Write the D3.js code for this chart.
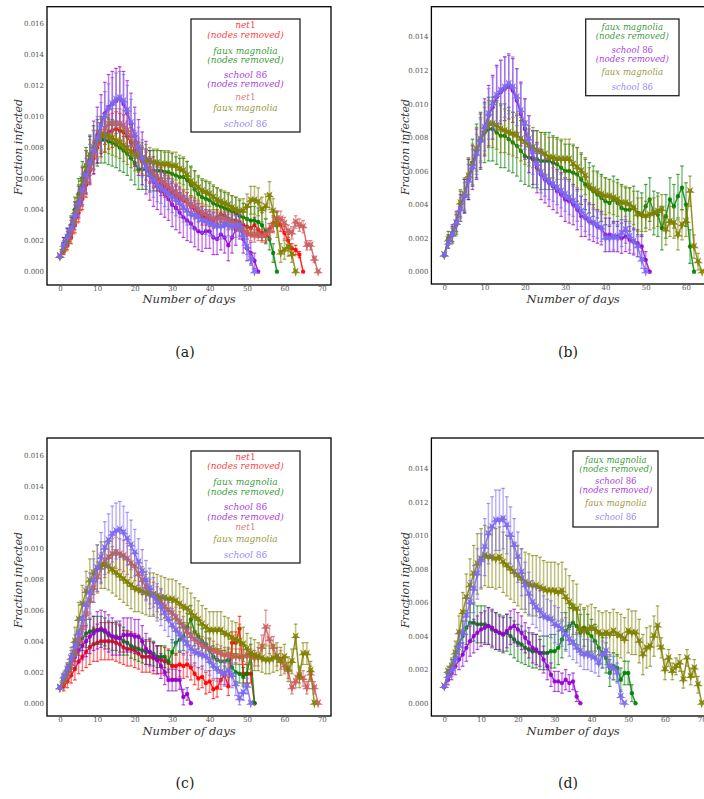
<!DOCTYPE html>
<html>
<head>
<meta charset="utf-8">
<script src="https://cdn.jsdelivr.net/npm/d3@7"></script>
<style>
  body { margin: 0; background: #fff; }
  svg { display: block; }
  text { font-family: "DejaVu Serif", "Liberation Serif", serif; }
</style>
</head>
<body>
<svg id="chart" width="704" height="799"></svg>
<script>
// all values are in units of 1e-4 (fraction infected), index = day
const UNIT = 1e-4;
const xTicks = [0, 10, 20, 30, 40, 50, 60, 70];
const yTicks16 = [0, 0.002, 0.004, 0.006, 0.008, 0.010, 0.012, 0.014, 0.016];
const yTicks14 = [0, 0.002, 0.004, 0.006, 0.008, 0.010, 0.012, 0.014];

// ---- panel (a)
const aNet1Rm = [10,13,17,22,30,38,47,56,65,73, 80,85,88,90,91,92,91,90,87,83, 78,74,71,68,65,62,60,57,55,53, 51,49,47,46,45,42,40,38,36,35, 34,33,35,37,36,34,33,33,32,30, 29,28,30,27,25,23,27,31,34,30, 25,20,15,14,11,0];
const aNet1RmErr = [1,2,3,4,5,6,7,8,9,10, 10,11,11,11,11,11,11,11,10,10, 10,9,9,9,8,8,8,8,7,7, 7,7,7,6,6,6,6,6,6,5, 5,5,5,5,5,5,5,5,5,5, 5,5,5,5,5,4,4,5,5,4, 4,4,3,3,2,0];
const aFauxRm = [10,18,23,30,40,50,60,68,75,80, 83,85,85,84,83,82,80,78,76,73, 70,66,66,66,65,65,65,65,64,64, 63,62,61,61,59,56,53,50,48,47, 46,44,43,42,41,40,39,38,36,35, 34,33,33,32,30,26,21,12,0];
const aFauxRmErr = [1,4,5,6,8,10,11,12,13,14, 15,15,15,15,15,15,15,14,14,14, 14,13,13,13,13,13,13,13,13,13, 13,12,12,12,12,12,12,11,11,11, 11,11,11,10,10,10,10,10,10,9, 9,9,9,9,8,8,7,6,0];
const aSchoolRm = [10,18,23,29,37,45,55,64,72,80, 88,95,102,106,108,110,111,108,102,95, 87,80,73,67,62,58,55,52,50,47, 43,41,38,35,33,31,28,26,25,26, 26,22,21,24,22,17,22,27,30,21, 15,12,7,0];
const aSchoolRmErr = [1,4,5,6,8,10,12,14,15,17, 18,19,20,21,21,21,21,21,21,20, 19,18,17,17,16,16,15,15,15,14, 14,14,13,13,13,12,12,12,12,11, 11,11,10,10,10,10,10,10,9,9, 8,7,5,0];
const aNet1 = [10,14,19,25,32,40,49,58,67,75, 82,88,92,95,95,95,95,94,91,87, 82,77,73,70,66,63,61,59,57,55, 53,51,49,47,45,43,42,40,38,37, 35,34,34,34,34,33,32,31,28,27, 25,24,23,24,23,24,26,30,34,34, 31,26,25,32,30,29,17,17,8,0];
const aNet1Err = [1,2,3,4,5,6,7,8,8,9, 9,10,10,10,10,10,10,10,10,9, 9,9,8,8,8,8,7,7,7,7, 7,6,6,6,6,6,6,5,5,5, 5,5,5,5,5,5,5,5,5,4, 4,4,4,4,4,4,5,5,5,5, 4,4,4,4,4,4,3,3,2,0];
const aFaux = [10,15,20,28,38,48,59,68,75,80, 85,88,88,87,86,84,83,81,79,77, 75,74,73,72,71,70,70,69,69,69, 68,68,66,65,62,58,56,54,52,51, 50,48,46,45,44,43,41,40,39,39, 42,46,46,45,40,42,49,39,30,12, 14,16,11,0];
const aFauxErr = [1,3,4,5,7,8,9,10,10,11, 11,11,11,11,11,10,10,10,10,10, 10,10,10,10,9,9,9,9,9,9, 9,9,9,9,9,9,9,8,8,8, 8,8,8,8,8,8,8,8,8,8, 8,9,9,9,8,8,9,8,8,6, 6,6,5,0];
const aSchool = [10,17,22,28,36,44,53,62,70,78, 86,94,100,105,108,111,112,110,104,96, 88,80,73,67,62,59,56,54,52,50, 48,46,44,41,39,37,36,35,33,32, 31,30,29,29,30,30,29,29,30,23, 16,8,0];
const aSchoolErr = [1,3,4,5,7,8,10,11,12,13, 14,15,16,16,17,17,17,17,16,15, 14,13,12,12,11,11,11,10,10,10, 10,10,9,9,9,9,9,8,8,8, 8,8,8,8,8,7,7,7,7,6, 5,4,0];

// ---- panel (b)
const bFauxRm = [10,20,22,28,40,45,55,65,72,78, 83,85,85,83,81,81,79,77,75,72, 69,68,67,67,66,66,66,65,64,62, 60,60,59,58,55,52,50,48,46,44, 42,41,43,41,38,37,37,38,35,34, 39,43,35,34,26,33,43,39,45,50, 40,15,0];
const bFauxRmErr = [1,4,5,6,8,10,12,14,16,17, 18,19,19,19,19,19,19,18,18,18, 17,17,17,17,17,17,17,16,16,16, 16,16,16,16,15,15,15,15,14,14, 14,14,14,14,14,13,13,13,13,13, 13,13,13,13,13,13,13,13,13,13, 13,10,0];
const bSchoolRm = [10,18,23,30,38,45,55,62,70,78, 86,93,98,104,107,109,110,108,102,94, 85,76,68,62,58,55,53,51,48,46, 43,42,40,37,33,32,30,29,27,26, 22,22,21,21,20,21,19,18,17,15, 7,0];
const bSchoolRmErr = [1,4,5,6,8,10,12,13,15,16, 17,18,19,19,19,19,19,19,19,19, 18,17,16,15,15,14,14,14,13,13, 13,13,12,12,12,11,11,11,10,10, 10,10,9,9,9,9,8,8,8,7, 5,0];
const bFaux = [10,19,22,29,41,46,57,64,73,79, 84,88,88,87,85,84,83,82,81,79, 77,75,74,72,71,70,68,68,67,67, 67,67,64,62,60,57,51,49,48,46, 45,45,44,43,41,41,40,38,34,34, 33,34,35,36,37,25,30,29,22,28, 30,48,15,6,0];
const bFauxErr = [1,3,4,6,8,10,11,12,13,13, 14,14,14,14,14,13,13,13,13,13, 13,12,12,12,12,12,12,12,12,12, 12,12,12,12,11,11,11,11,11,11, 11,10,10,10,10,10,10,10,10,10, 9,9,9,9,9,9,9,9,9,9, 9,9,7,5,0];
const bSchool = [10,17,22,29,37,45,54,62,70,78, 86,94,100,105,108,110,112,110,104,96, 88,79,71,64,59,56,54,52,50,48, 46,44,42,39,36,33,31,29,28,26, 20,20,21,20,23,25,21,18,15,7, 0];
const bSchoolErr = [1,3,4,5,7,8,10,11,12,13, 14,15,16,17,18,18,18,18,17,16, 15,14,13,12,12,11,11,10,10,10, 10,10,9,9,9,9,9,8,8,8, 8,8,8,8,8,8,8,7,6,5, 0];

// ---- panel (c)
const cNet1Rm = [10,11,14,18,22,27,30,33,36,38, 39,40,40,40,40,39,38,36,35,35, 34,32,30,30,30,29,28,28,27,26, 24,24,25,24,25,23,19,16,17,13, 14,9,10,15,18,11,39,39,48,19, 19,19,0];
const cNet1RmErr = [1,3,4,5,7,8,9,10,11,11, 12,12,12,12,12,12,12,11,11,11, 11,10,10,10,10,10,9,9,9,9, 8,8,8,8,8,8,7,7,7,7, 7,6,6,6,6,6,7,7,8,6, 6,6,0];
const cFauxRm = [10,16,21,27,33,38,42,45,46,47, 47,47,46,44,43,43,42,40,39,37, 36,35,34,33,33,32,30,30,30,27, 33,39,41,43,49,54,46,43,40,38, 34,30,28,27,27,28,23,20,19,17, 19,32,0];
const cFauxRmErr = [1,3,4,5,6,7,8,9,9,9, 9,9,9,9,9,9,9,9,8,8, 8,8,8,8,8,8,7,7,7,7, 8,8,8,9,9,9,9,8,8,8, 8,7,7,7,7,7,6,6,6,6, 6,6,0];
const cSchoolRm = [10,15,20,25,30,34,37,40,43,45, 47,48,47,45,43,42,42,44,44,44, 43,43,40,35,33,30,28,24,20,15, 15,15,15,4,6,0];
const cSchoolRmErr = [1,3,4,5,7,8,9,10,11,11, 12,12,12,12,12,11,11,11,11,11, 11,11,10,10,9,9,9,8,8,7, 7,7,6,5,4,0];
const cNet1 = [10,14,19,25,32,40,48,57,66,74, 81,87,91,94,96,97,96,95,93,90, 88,83,79,75,72,70,67,65,62,60, 58,55,52,49,46,43,41,39,37,36, 35,34,33,32,31,31,30,30,30,30, 31,30,29,30,36,49,41,36,30,28, 24,21,10,14,18,16,10,19,10,0];
const cNet1Err = [1,3,4,5,6,7,8,8,9,9, 10,10,10,10,10,10,10,10,10,9, 9,9,9,8,8,8,8,8,7,7, 7,7,7,7,6,6,6,6,6,6, 6,6,5,5,5,5,5,5,5,5, 5,5,5,6,8,11,9,7,6,6, 5,5,4,4,5,5,4,5,4,0];
const cFaux = [10,15,21,29,40,54,64,72,79,84, 87,89,89,88,86,84,82,80,78,76, 74,73,72,71,70,70,69,68,68,67, 67,66,64,62,61,58,56,54,51,49, 47,47,47,47,45,44,42,41,40,38, 35,32,31,30,29,28,28,29,30,27, 30,22,27,43,17,32,32,21,0];
const cFauxErr = [1,3,5,7,9,11,12,13,14,14, 15,15,15,15,15,15,15,15,15,15, 15,14,14,14,14,14,14,14,13,13, 13,13,13,13,13,13,12,12,12,12, 12,12,12,12,11,11,11,11,11,11, 10,10,10,9,9,9,9,9,9,9, 8,8,8,8,7,7,7,6,0];
const cSchool = [10,17,22,29,37,45,54,63,71,79, 87,94,100,105,109,111,112,110,106,102, 97,91,85,79,74,69,65,62,58,54, 50,47,44,41,38,35,33,32,31,30, 27,24,22,20,19,21,18,12,3,7, 11,0];
const cSchoolErr = [1,3,4,5,7,9,11,12,13,14, 15,16,17,17,18,18,18,17,17,16, 15,15,14,13,13,12,12,12,11,11, 11,10,10,10,10,10,9,9,9,9, 9,8,8,8,8,8,8,7,4,5, 5,0];

// ---- panel (d)
const dFauxRm = [10,17,22,28,35,40,45,48,48,47, 47,47,46,44,43,42,41,42,40,38, 36,35,33,32,31,31,30,30,30,31, 31,33,38,43,46,48,46,42,45,42, 40,37,33,30,27,18,22,21,14,18, 18,6,0];
const dFauxRmErr = [1,3,4,6,8,9,10,11,11,11, 11,11,11,11,11,11,11,11,11,11, 11,11,10,10,10,10,10,10,10,10, 10,10,11,11,11,11,11,11,11,11, 10,10,10,9,9,8,8,8,7,7, 7,5,0];
const dSchoolRm = [10,14,18,22,26,29,33,37,40,42, 44,45,46,45,43,42,41,43,45,46, 44,42,39,36,33,32,30,26,22,17, 13,13,12,14,12,13,4,0];
const dSchoolRmErr = [1,3,4,5,6,7,8,9,10,10, 10,10,11,11,11,10,10,10,10,10, 10,10,9,9,9,9,8,8,8,7, 6,6,6,6,5,5,3,0];
const dFaux = [10,19,22,30,42,54,63,70,77,83, 86,88,87,87,86,87,84,82,80,78, 76,74,72,71,70,70,69,68,67,67, 67,66,67,63,60,57,56,44,43,44, 45,44,42,41,42,41,43,41,40,38, 43,42,42,37,29,33,34,40,46,33, 20,27,19,22,24,14,27,16,21,11, 0];
const dFauxErr = [1,3,5,7,10,12,14,16,17,18, 18,18,18,18,18,18,18,18,18,18, 18,18,18,18,18,18,18,17,17,17, 17,17,17,17,16,16,15,15,14,14, 14,13,13,13,13,13,13,13,13,13, 13,13,13,13,12,12,12,12,12,6, 6,5,5,5,5,5,5,5,5,5, 0];
const dSchool = [10,16,20,26,34,42,52,60,68,77, 85,93,101,105,109,109,110,106,100,94, 87,78,70,65,60,57,55,52,51,50, 47,46,44,41,38,36,33,31,29,29, 28,27,24,29,31,22,21,18,4,0];
const dSchoolErr = [1,3,4,5,7,9,11,13,14,15, 16,17,18,18,18,18,18,17,17,16, 15,14,14,13,13,12,12,12,11,11, 11,11,10,10,10,10,9,9,9,9, 9,9,8,8,8,7,7,6,4,0];

// series look
const STYLE = {
  net1Rm:   { color: '#ff0000', marker: 'circle', label: ['net1', '(nodes removed)'] },
  fauxRm:   { color: '#008000', marker: 'circle', label: ['faux magnolia', '(nodes removed)'] },
  schoolRm: { color: '#9400d3', marker: 'circle', label: ['school 86', '(nodes removed)'] },
  net1:     { color: '#cd5c5c', marker: 'star',   label: ['net1'] },
  faux:     { color: '#808000', marker: 'star',   label: ['faux magnolia'] },
  school:   { color: '#7b68ee', marker: 'star',   label: ['school 86'] }
};

const panels = [
  { tag: '(a)', xRange: [47, 331], yRange: [285, 6.7], xDomain: [-3.45, 72.45], yDomain: [-0.00086, 0.01707],
    xTicks: xTicks, yTicks: yTicks16, cap: [185, 357], xLab: [189, 303], yLab: [18, 147],
    legend: { x: 191, y: 19, w: 109, h: 113, cx: 245.5, fs: 9, ys: [25, 35, 50.7, 60, 75, 84.3, 96.7, 107.7, 124] },
    series: [['net1Rm', aNet1Rm, aNet1RmErr], ['fauxRm', aFauxRm, aFauxRmErr], ['schoolRm', aSchoolRm, aSchoolRmErr],
             ['net1', aNet1, aNet1Err], ['faux', aFaux, aFauxErr], ['school', aSchool, aSchoolErr]] },
  { tag: '(b)', xRange: [431.4, 715], yRange: [284, 6.7], xDomain: [-3.2, 67.2], yDomain: [-0.00073, 0.01579],
    xTicks: xTicks, yTicks: yTicks14, cap: [568, 357], xLab: [573, 303], yLab: [405, 147],
    legend: { x: 585.7, y: 19, w: 93.3, h: 76.7, cx: 632.3, fs: 8.6, ys: [26.4, 35.9, 49.8, 58.6, 71.7, 86.7] },
    series: [['fauxRm', bFauxRm, bFauxRmErr], ['schoolRm', bSchoolRm, bSchoolRmErr],
             ['faux', bFaux, bFauxErr], ['school', bSchool, bSchoolErr]] },
  { tag: '(c)', xRange: [47, 331], yRange: [716, 438], xDomain: [-3.45, 72.45], yDomain: [-0.00082, 0.01709],
    xTicks: xTicks, yTicks: yTicks16, cap: [185, 788], xLab: [189, 734.5], yLab: [18, 580],
    legend: { x: 191, y: 451, w: 109, h: 112, cx: 245.5, fs: 9, ys: [456.7, 466, 481.7, 491.7, 506.7, 516.7, 527.3, 539.3, 555] },
    series: [['net1Rm', cNet1Rm, cNet1RmErr], ['fauxRm', cFauxRm, cFauxRmErr], ['schoolRm', cSchoolRm, cSchoolRmErr],
             ['net1', cNet1, cNet1Err], ['faux', cFaux, cFauxErr], ['school', cSchool, cSchoolErr]] },
  { tag: '(d)', xRange: [431.4, 714.6], yRange: [716, 438], xDomain: [-3.5, 73.5], yDomain: [-0.00076, 0.0158],
    xTicks: xTicks, yTicks: yTicks14, cap: [568, 788], xLab: [573, 734.5], yLab: [405, 580],
    legend: { x: 573, y: 451, w: 85, h: 76, cx: 615.8, fs: 8.6, ys: [459.7, 468.6, 480.5, 490.2, 502.7, 517.3] },
    series: [['fauxRm', dFauxRm, dFauxRmErr], ['schoolRm', dSchoolRm, dSchoolRmErr],
             ['faux', dFaux, dFauxErr], ['school', dSchool, dSchoolErr]] }
];

const svg = d3.select('#chart');
const star = d3.symbol().type(d3.symbolStar).size(30);

// italic label with digits kept upright, like latex math
function mathText(sel, str) {
  str.split(/(\d+)/).forEach(part => {
    if (!part) return;
    sel.append('tspan')
      .attr('font-style', /^\d+$/.test(part) ? 'normal' : 'italic')
      .text(part);
  });
}

panels.forEach(p => {
  const g = svg.append('g');
  const x = d3.scaleLinear().domain(p.xDomain).range(p.xRange);
  const y = d3.scaleLinear().domain(p.yDomain).range(p.yRange);

  // axes (labels only, no tick marks)
  const yAxis = g.append('g')
    .attr('transform', 'translate(' + p.xRange[0] + ',0)')
    .call(d3.axisLeft(y).tickValues(p.yTicks).tickSize(0).tickPadding(3).tickFormat(d3.format('.3f')));
  const xAxis = g.append('g')
    .attr('transform', 'translate(0,' + p.yRange[0] + ')')
    .call(d3.axisBottom(x).tickValues(p.xTicks).tickSize(0).tickPadding(1.5).tickFormat(d3.format('d')));
  [yAxis, xAxis].forEach(a => {
    a.select('.domain').remove();
    a.selectAll('text').attr('font-size', 7).attr('fill', '#555');
  });

  // series
  p.series.forEach(([key, vals, errs]) => {
    const st = STYLE[key];
    const pts = vals.map((v, i) => ({ d: i, v: v * UNIT, e: errs[i] * UNIT }));
    const sg = g.append('g');
    const eb = pts.filter(q => q.e > 0);
    sg.selectAll('line.bar').data(eb).join('line')
      .attr('x1', q => x(q.d)).attr('x2', q => x(q.d))
      .attr('y1', q => y(q.v - q.e)).attr('y2', q => y(q.v + q.e))
      .attr('stroke', st.color).attr('stroke-width', 1.5).attr('stroke-opacity', 0.5);
    [-1, 1].forEach(s => {
      sg.selectAll('line.cap' + s).data(eb).join('line')
        .attr('x1', q => x(q.d) - 1.8).attr('x2', q => x(q.d) + 1.8)
        .attr('y1', q => y(q.v + s * q.e)).attr('y2', q => y(q.v + s * q.e))
        .attr('stroke', st.color).attr('stroke-width', 1.2).attr('stroke-opacity', 0.7);
    });
    sg.append('path')
      .datum(pts)
      .attr('d', d3.line().x(q => x(q.d)).y(q => y(q.v)))
      .attr('fill', 'none').attr('stroke', st.color).attr('stroke-width', 1.5).attr('stroke-opacity', 0.85);
    if (st.marker === 'circle') {
      sg.selectAll('circle').data(pts).join('circle')
        .attr('cx', q => x(q.d)).attr('cy', q => y(q.v)).attr('r', 2.2)
        .attr('fill', st.color).attr('fill-opacity', 0.9);
    } else {
      sg.selectAll('path.mk').data(pts).join('path')
        .attr('class', 'mk')
        .attr('d', star)
        .attr('transform', q => 'translate(' + x(q.d) + ',' + y(q.v) + ') rotate(180)')
        .attr('fill', st.color).attr('fill-opacity', 0.9);
    }
  });

  // frame
  g.append('rect')
    .attr('x', p.xRange[0]).attr('y', p.yRange[1])
    .attr('width', p.xRange[1] - p.xRange[0]).attr('height', p.yRange[0] - p.yRange[1])
    .attr('fill', 'none').attr('stroke', '#000').attr('stroke-width', 1.3);

  // legend
  const L = p.legend;
  g.append('rect').attr('x', L.x).attr('y', L.y).attr('width', L.w).attr('height', L.h)
    .attr('fill', '#fff').attr('stroke', '#222').attr('stroke-width', 1.3);
  let row = 0;
  p.series.forEach(([key]) => {
    STYLE[key].label.forEach(line => {
      const t = g.append('text')
        .attr('x', L.cx).attr('y', L.ys[row] + 3.1)
        .attr('text-anchor', 'middle').attr('font-size', L.fs)
        .attr('fill', STYLE[key].color).attr('fill-opacity', 0.8);
      mathText(t, line);
      row++;
    });
  });

  // axis titles
  g.append('text').attr('x', p.xLab[0]).attr('y', p.xLab[1])
    .attr('text-anchor', 'middle').attr('font-size', 11.5).attr('font-style', 'italic').attr('fill', '#333')
    .text('Number of days');
  g.append('text')
    .attr('transform', 'translate(' + p.yLab[0] + ',' + p.yLab[1] + ') rotate(-90)')
    .attr('text-anchor', 'middle').attr('dy', '0.35em')
    .attr('font-size', 11).attr('font-style', 'italic').attr('fill', '#333')
    .text('Fraction infected');

  // caption
  g.append('text').attr('x', p.cap[0]).attr('y', p.cap[1])
    .attr('text-anchor', 'middle').attr('font-size', 14).attr('fill', '#222')
    .text(p.tag);
});
</script>
</body>
</html>
